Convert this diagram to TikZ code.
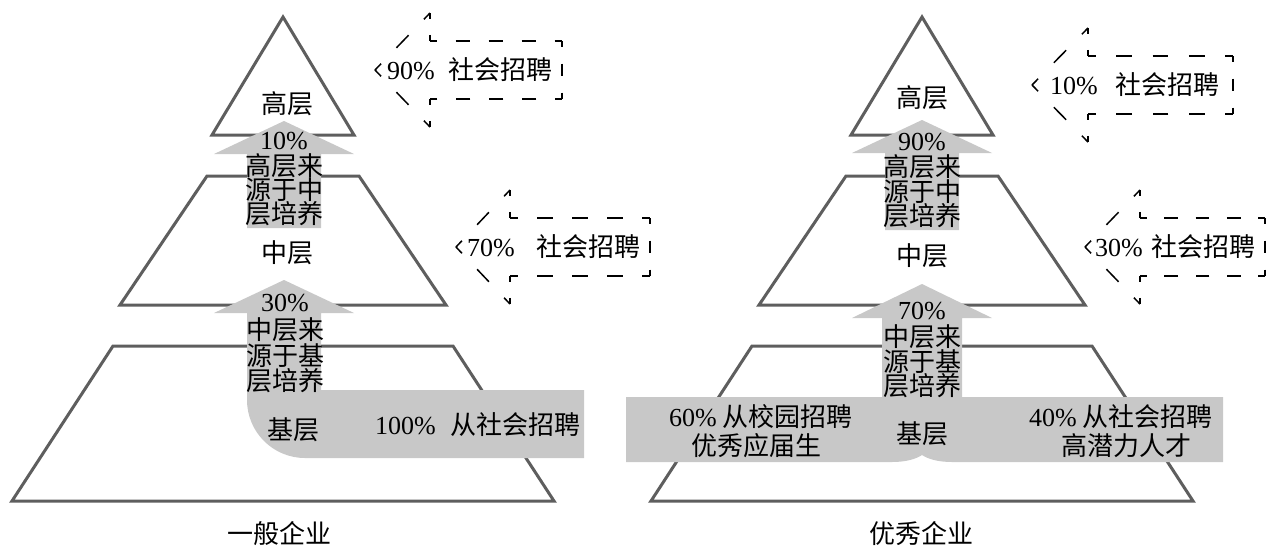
\documentclass[tikz,border=0pt]{standalone}
\usepackage{fontspec}
\setmainfont{Liberation Serif}
\newfontfamily\cjk{Noto Sans CJK SC}
\definecolor{pyr}{HTML}{5E5E5E}
\definecolor{flow}{HTML}{C8C8C8}
\newcommand\dseg[4]{%
  \pgfmathsetmacro\dsL{veclen((#3)-(#1),(#4)-(#2))}%
  \pgfmathsetmacro\dsN{max(1,round(\dsL/34))}%
  \pgfmathsetmacro\dsD{0.44*\dsL/\dsN}%
  \pgfmathsetmacro\dsG{\dsL/\dsN-\dsD}%
  \pgfmathsetmacro\dsH{\dsD/2}%
  \draw[dashline, dash pattern=on \dsD pt off \dsG pt, dash phase=\dsH pt] (#1,#2) -- (#3,#4);%
}
\newcommand\dasharr[4]{%
  \dseg{#1}{#2}{#3}{#2-57}%
  \dseg{#3}{#2-57}{#3}{#2-29}%
  \dseg{#3}{#2-29}{#4}{#2-29}%
  \dseg{#4}{#2-29}{#4}{#2+29}%
  \dseg{#4}{#2+29}{#3}{#2+29}%
  \dseg{#3}{#2+29}{#3}{#2+57}%
  \dseg{#3}{#2+57}{#1}{#2}%
}
\newcommand\pyramid[1]{%
  \draw[pyrline] (#1,17) -- (#1+71,135) -- (#1-71,135) -- cycle;
  \draw[pyrline] (#1-76,176) -- (#1+76,176) -- (#1+163,305) -- (#1-163,305) -- cycle;
  \draw[pyrline] (#1-170,346) -- (#1+170,346) -- (#1+271,501) -- (#1-271,501) -- cycle;
}
\begin{document}
\begin{tikzpicture}[x=1pt,y=-1pt,
  pyrline/.style={draw=pyr, line width=3pt, line join=miter},
  flowfill/.style={fill=flow, draw=none},
  dashline/.style={draw=black, line width=1.5pt, line cap=butt},
  lat/.style={font=\fontsize{26pt}{26pt}\selectfont, inner sep=0pt, text=black},
  han/.style={font=\fontsize{26pt}{26pt}\selectfont\cjk, inner sep=0pt, text=black},
]
\fill[white] (0,0) rectangle (1280,555);
\useasboundingbox (0,0) rectangle (1280,555);

% pyramids
\pyramid{283}
\pyramid{922}

% gray flows, left
\fill[flowfill] (247,228) -- (247,154) -- (214,154) -- (284,121) -- (354,154) -- (321,154) -- (321,228) -- cycle;
\fill[flowfill] (247,313) -- (214,313) -- (284,280) -- (354,313) -- (321,313) -- (321,390) -- (584,390) -- (584,458) -- (305,458) .. controls (273,458) and (247,432) .. (247,400) -- cycle;
% gray flows, right
\fill[flowfill] (885,230) -- (885,153) -- (852,153) -- (922,120) -- (992,153) -- (959,153) -- (959,230) -- cycle;
\fill[flowfill] (626,397) -- (882,397) -- (882,318) -- (852,318) -- (922,284) -- (992,318) -- (962,318) -- (962,397) -- (1223,397) -- (1223,462) -- (952,462) .. controls (938,462) and (928,459) .. (922,455) .. controls (916,459) and (906,462) .. (892,462) -- (626,462) -- cycle;

% dashed arrows
\dasharr{375}{70}{430}{562}
\dasharr{456}{247}{510}{650}
\dasharr{1032}{85}{1088}{1233}
\dasharr{1085}{247}{1140}{1265}

% dashed arrow texts
\node[lat, anchor=west] (tA) at (387,70) {90\%\hspace{14pt}{\cjk 社会招聘}};
\node[lat, anchor=west] (tB) at (467,247) {70\%\hspace{22pt}{\cjk 社会招聘}};
\node[lat, anchor=west] (tC) at (1050,85) {10\%\hspace{18pt}{\cjk 社会招聘}};
\node[lat, anchor=west] (tD) at (1095,247) {30\%\hspace{9pt}{\cjk 社会招聘}};

% left texts
\node[han] (lTop) at (287,104) {高层};
\node[lat] (lP1) at (284,141) {10\%};
\node[han] (lU1) at (284,166) {高层来};
\node[han] (lU2) at (284,190) {源于中};
\node[han] (lU3) at (284,214) {层培养};
\node[han] (lMid) at (287,253) {中层};
\node[lat] (lP2) at (285,303) {30\%};
\node[han] (lL1) at (285,330) {中层来};
\node[han] (lL2) at (285,356) {源于基};
\node[han] (lL3) at (285,381) {层培养};
\node[han] (lBase) at (293,430) {基层};
\node[lat, anchor=west] (lSoc) at (375,425) {100\%\hspace{15pt}{\cjk 从社会招聘}};
\node[han] (lCap) at (279,534) {一般企业};

% right texts
\node[han] (rTop) at (922,98) {高层};
\node[lat] (rP1) at (922,142) {90\%};
\node[han] (rU1) at (922,167) {高层来};
\node[han] (rU2) at (922,192) {源于中};
\node[han] (rU3) at (922,216) {层培养};
\node[han] (rMid) at (922,256) {中层};
\node[lat] (rP2) at (922,311) {70\%};
\node[han] (rL1) at (922,337) {中层来};
\node[han] (rL2) at (922,362) {源于基};
\node[han] (rL3) at (922,386) {层培养};
\node[han] (rBase) at (922,434) {基层};
\node[lat] (rCamp) at (761,417) {60\%\hspace{6pt}{\cjk 从校园招聘}};
\node[han] (rCamp2) at (756,446) {优秀应届生};
\node[lat] (rSoc) at (1121,417) {40\%\hspace{6pt}{\cjk 从社会招聘}};
\node[han] (rSoc2) at (1126,446) {高潜力人才};
\node[han] (rCap) at (921,534) {优秀企业};
\end{tikzpicture}
\end{document}
